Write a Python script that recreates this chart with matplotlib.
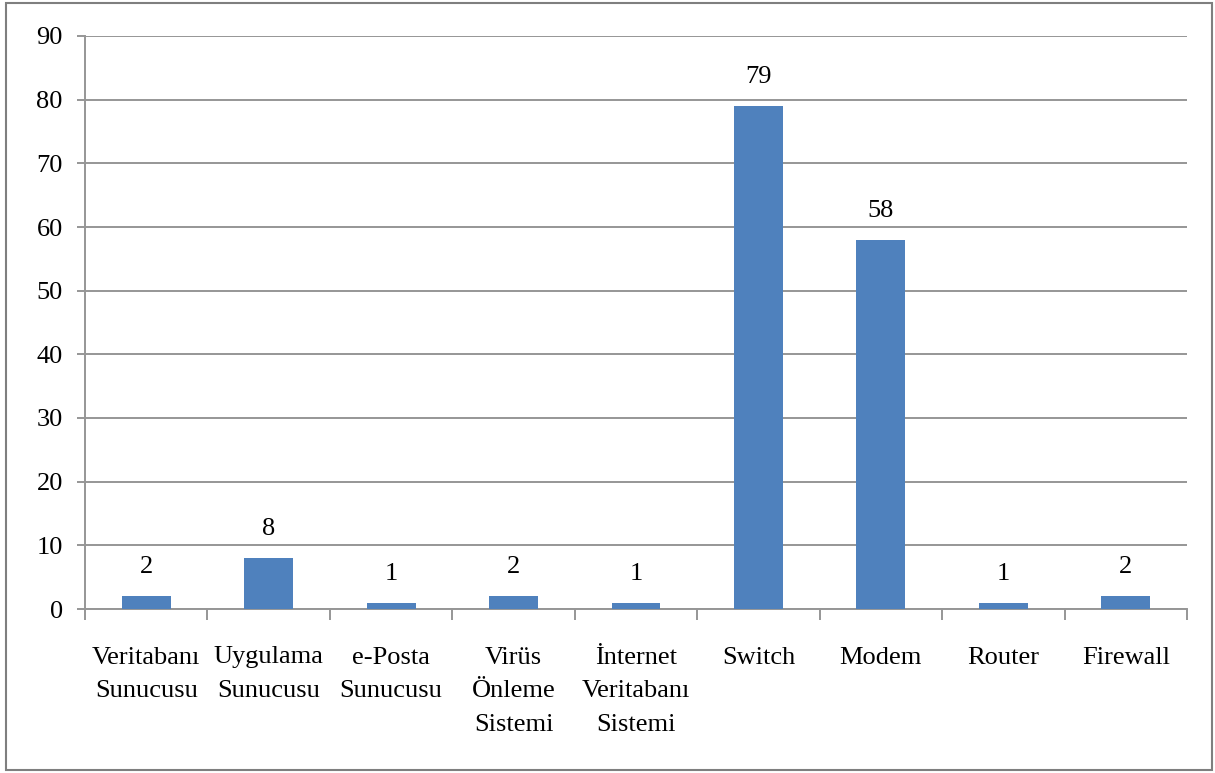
import matplotlib
matplotlib.use("Agg")
import matplotlib.pyplot as plt
from matplotlib.patches import Rectangle
import numpy as np

categories = ["Veritabanı\nSunucusu", "Uygulama\nSunucusu", "e-Posta\nSunucusu",
              "Virüs\nÖnleme\nSistemi", "İnternet\nVeritabanı\nSistemi", "Switch",
              "Modem", "Router", "Firewall"]
values = [2, 8, 1, 2, 1, 79, 58, 1, 2]
yticks = [0, 10, 20, 30, 40, 50, 60, 70, 80, 90]

plt.rcParams['font.family'] = ['Liberation Serif', 'DejaVu Serif']

W, H = 1215, 773
fig = plt.figure(figsize=(W / 100, H / 100), dpi=100)
ax = fig.add_axes([85 / W, 1 - 609 / H, (1187 - 85) / W, (609 - 36) / H])

x = np.arange(len(categories))
ax.bar(x, values, width=0.4, color='#4F81BD', zorder=3)

ax.set_xlim(-0.5, len(categories) - 0.5)
ax.set_ylim(0, 90)
ax.set_yticks(yticks)
ax.set_yticklabels([str(v) for v in yticks])
ax.yaxis.grid(True, color='#969696', linewidth=1.4, zorder=0)
ax.set_axisbelow(True)

ax.set_xticks(x)
ax.set_xticklabels(categories, linespacing=1.7)
ax.set_xticks(np.arange(len(categories) + 1) - 0.5, minor=True)
ax.tick_params(axis='x', which='major', length=0, pad=27, labelsize=19)
ax.tick_params(axis='x', which='minor', length=8, width=1.4, color='#969696', direction='out')
ax.tick_params(axis='y', length=6, width=1.4, color='#969696', pad=10, labelsize=19)

for s in ['top', 'right']:
    ax.spines[s].set_visible(False)
for s in ['left', 'bottom']:
    ax.spines[s].set_color('#969696')
    ax.spines[s].set_linewidth(1.4)

for xi, v in zip(x, values):
    ax.annotate(str(v), (xi, v), xytext=(0, 13), textcoords='offset points',
                ha='center', va='bottom', fontsize=19)

fig.patches.append(Rectangle((6 / W, 3 / H), (1212 - 6) / W, (770 - 3) / H,
                             transform=fig.transFigure, fill=False,
                             edgecolor='#7F7F7F', linewidth=1.5))

fig.savefig('out.png', dpi=100)
